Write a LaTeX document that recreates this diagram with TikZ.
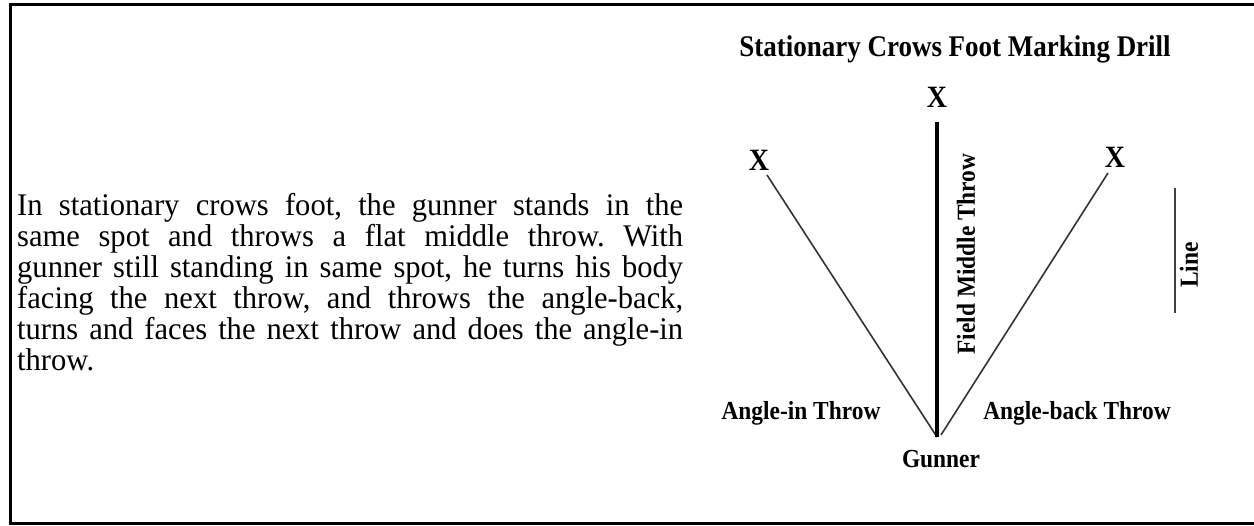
\documentclass[tikz,border=0pt]{standalone}
\usepackage{fontspec}
\setmainfont{Liberation Serif}
\newfontfamily\parafont[FakeStretch=0.97]{Liberation Serif}
\newfontfamily\lblfont[FakeStretch=0.9]{Liberation Serif}
\frenchspacing
\begin{document}
\begin{tikzpicture}[x=1pt,y=-1pt,
  lbl/.style={font=\lblfont\fontsize{26}{28}\selectfont\bfseries, inner sep=0pt},
  xmark/.style={font=\lblfont\fontsize{31}{32}\selectfont\bfseries, inner sep=0pt},
  titlestyle/.style={font=\lblfont\fontsize{30}{32}\selectfont\bfseries, inner sep=0pt, anchor=base},
  para/.style={font=\parafont\fontsize{31.5}{31}\selectfont, inner sep=0pt, anchor=base west},
  throwline/.style={draw=black!80, line width=1.6pt},
  fieldline/.style={draw=black, line width=3.5pt},
  linebar/.style={draw=black!75, line width=2.8pt},
  framestyle/.style={draw=black, line width=3pt}]
\useasboundingbox (0,0) rectangle (1254,526);
% frame (right side cut off)
\draw[framestyle] (1256,5) -- (10,5) -- (10,523.5) -- (1256,523.5);

% paragraph
\node[para] (p1) at (17,216) {\makebox[666pt][s]{In stationary crows foot, the gunner stands in the}};
\node[para] (p2) at (17,247) {\makebox[666pt][s]{same spot and throws a flat middle throw. With}};
\node[para] (p3) at (17,278) {\makebox[666pt][s]{gunner still standing in same spot, he turns his body}};
\node[para] (p4) at (17,309) {\makebox[666pt][s]{facing the next throw, and throws the angle-back,}};
\node[para] (p5) at (17,340) {\makebox[666pt][s]{turns and faces the next throw and does the angle-in}};
\node[para] (p6) at (17,371) {throw.};

% title
\node[titlestyle] (title) at (955,57) {Stationary Crows Foot Marking Drill};

% X marks
\node[xmark] (xm) at (937,97) {X};
\node[xmark] (xl) at (759,160) {X};
\node[xmark] (xr) at (1115,157) {X};

% throw lines
\coordinate (apex) at (937,437);
\coordinate (rbot) at (941,435);
\coordinate (ltop) at (767,175);
\coordinate (rtop) at (1108,173);
\coordinate (mtop) at (937,122);
\draw[throwline] (apex) -- (ltop);
\draw[throwline] (rbot) -- (rtop);
\draw[fieldline] (apex) -- (mtop);

% labels
\node[lbl, anchor=base] (ain) at (801,420) {Angle-in Throw};
\node[lbl, anchor=base] (aback) at (1077,420) {Angle-back Throw};
\node[lbl, anchor=base] (gunner) at (941,468) {Gunner};
\node[lbl, rotate=90] (fmt) at (966,254) {Field Middle Throw};

% line marker
\coordinate (ltopbar) at (1175,188);
\coordinate (lbotbar) at (1175,313);
\draw[linebar] (ltopbar) -- (lbotbar);
\node[lbl, rotate=90] (linelbl) at (1189,265) {Line};
\end{tikzpicture}
\end{document}
